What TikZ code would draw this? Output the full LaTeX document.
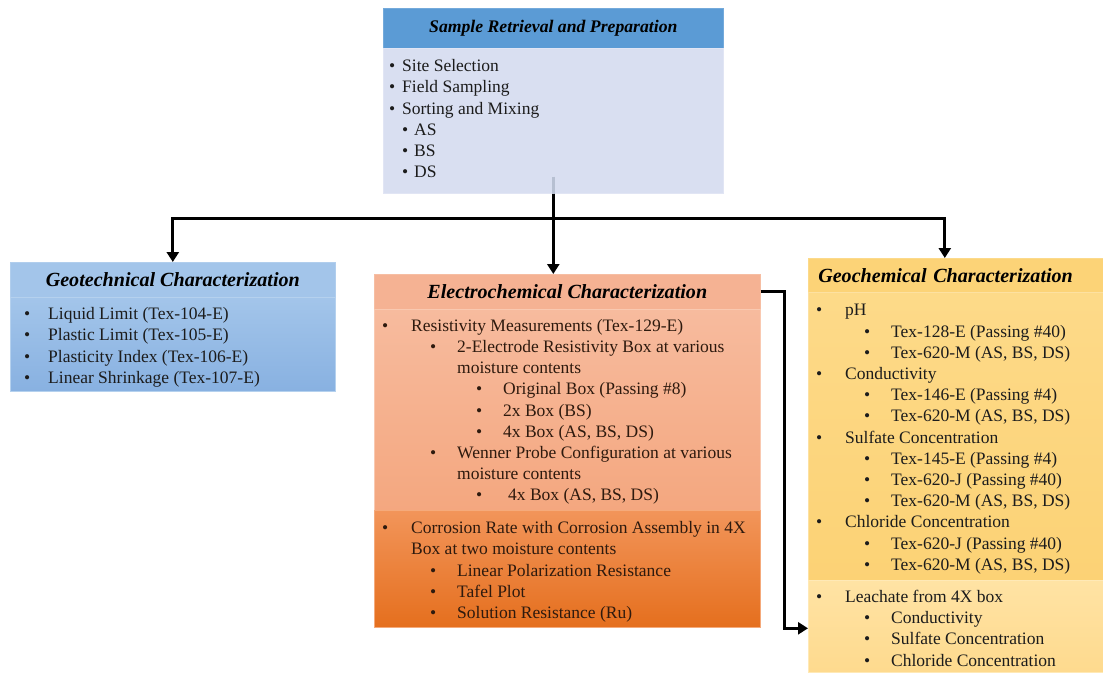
\documentclass[tikz,border=0pt]{standalone}
\usepackage{fontspec}
\setmainfont{Liberation Serif}
\usetikzlibrary{arrows.meta, positioning, calc}
\definecolor{prepblue}{HTML}{5B9BD5}
\definecolor{preplight}{HTML}{D9DFF1}
\definecolor{prepstub}{HTML}{B7C0D2}
\definecolor{geotop}{HTML}{A3C5EA}
\definecolor{geobot}{HTML}{88B1E1}
\definecolor{elechead}{HTML}{F5B293}
\definecolor{electop}{HTML}{F7BB9E}
\definecolor{elecmid}{HTML}{F4A77F}
\definecolor{eleclow}{HTML}{F2955A}
\definecolor{elecbot}{HTML}{E56F1E}
\definecolor{chemhead}{HTML}{FCD377}
\definecolor{chemtop}{HTML}{FDDA89}
\definecolor{chembot}{HTML}{FCD275}
\definecolor{leachtop}{HTML}{FFE3A4}
\definecolor{leachbot}{HTML}{FEDA8E}
\definecolor{bodyink}{HTML}{1C1C1C}
\definecolor{elecink}{HTML}{2E1A0E}

% bullet lines: indent, bullet box, text
\newcommand{\lvone}[1]{\hspace*{8pt}\makebox[29pt][l]{\textbullet}#1}
\newcommand{\lvonec}[1]{\hspace*{37pt}#1}
\newcommand{\lvtwo}[1]{\hspace*{56pt}\makebox[27pt][l]{\textbullet}#1}
\newcommand{\lvtwoc}[1]{\hspace*{83pt}#1}
\newcommand{\lvthree}[1]{\hspace*{102pt}\makebox[27pt][l]{\textbullet}#1}
\newcommand{\geoitem}[1]{\hspace*{14pt}\makebox[24pt][l]{\textbullet}#1}
\newcommand{\prepitem}[1]{\hspace*{6pt}\makebox[13pt][l]{\textbullet}#1}
\newcommand{\prepsub}[1]{\hspace*{19pt}\makebox[12pt][l]{\textbullet}#1}

\begin{document}
\begin{tikzpicture}[x=1pt, y=-1pt,
    head/.style={rectangle, anchor=north west, inner sep=0pt, fill=#1, draw=#1!85!white, line width=0.6pt,
      font=\fontsize{20.1}{22}\selectfont\bfseries\itshape},
    panel/.style 2 args={rectangle, anchor=north west, inner sep=0pt, top color=#1, bottom color=#2, draw=#1!80!white, line width=0.6pt},
    listtext/.style={anchor=west, inner sep=0pt, align=left, text=bodyink, font=\fontsize{17.5}{21.2}\selectfont},
    link/.style={line width=3pt, black},
    feed/.style={link, -{Triangle[width=12pt,length=10pt]}}
]
\useasboundingbox (0,0) rectangle (1103,672);
\fill[white] (0,0) rectangle (1103,672);

% sample retrieval
\node[head=prepblue, minimum width=340pt, minimum height=40pt, font=\fontsize{17.7}{20}\selectfont\bfseries\itshape] (prepHead) at (383,8) {Sample Retrieval and Preparation};
\node[panel={preplight}{preplight}, minimum width=340pt, minimum height=145pt] (prepBody) at (383,48) {};
\node[listtext, yshift=2pt] (prepList) at (prepBody.west) {\prepitem{Site Selection}\\ \prepitem{Field Sampling}\\ \prepitem{Sorting and Mixing}\\ \prepsub{AS}\\ \prepsub{BS}\\ \prepsub{DS}};
\draw[line width=3pt, prepstub] ([yshift=17pt]prepBody.south) -- (prepBody.south);

% geotechnical
\node[head=geotop, minimum width=325pt, minimum height=35pt] (geoHead) at (10,262) {Geotechnical Characterization};
\node[panel={geotop}{geobot}, minimum width=325pt, minimum height=94pt] (geoBody) at (10,297) {};
\node[listtext, yshift=-3pt] (geoList) at (geoBody.west) {\geoitem{Liquid Limit (Tex-104-E)}\\ \geoitem{Plastic Limit (Tex-105-E)}\\ \geoitem{Plasticity Index (Tex-106-E)}\\ \geoitem{Linear Shrinkage (Tex-107-E)}};

% electrochemical
\node[head=elechead, minimum width=386pt, minimum height=35pt] (elecHead) at (374,274) {Electrochemical Characterization};
\node[panel={electop}{elecmid}, minimum width=386pt, minimum height=201pt] (elecBody) at (374,309) {};
\node[listtext, text=elecink, yshift=-2pt] (elecList) at (elecBody.west) {\lvone{Resistivity Measurements (Tex-129-E)}\\
  \lvtwo{2-Electrode Resistivity Box at various}\\
  \lvtwoc{moisture contents}\\
  \lvthree{Original Box (Passing \#8)}\\
  \lvthree{2x Box (BS)}\\
  \lvthree{4x Box (AS, BS, DS)}\\
  \lvtwo{Wenner Probe Configuration at various}\\
  \lvtwoc{moisture contents}\\
  \lvthree{\hspace*{5pt}4x Box (AS, BS, DS)}};
\node[panel={eleclow}{elecbot}, minimum width=386pt, minimum height=117pt] (corrBody) at (374,510) {};
\node[listtext, text=elecink, yshift=-3pt] (corrList) at (corrBody.west) {\lvone{Corrosion Rate with Corrosion Assembly in 4X}\\
  \lvonec{Box at two moisture contents}\\
  \lvtwo{Linear Polarization Resistance}\\
  \lvtwo{Tafel Plot}\\
  \lvtwo{Solution Resistance (Ru)}};

% geochemical
\node[head=chemhead, minimum width=295pt, minimum height=34pt, text width=275pt, align=left] (chemHead) at (808,258) {Geochemical Characterization};
\node[panel={chemtop}{chembot}, minimum width=295pt, minimum height=288pt] (chemBody) at (808,292) {};
\node[listtext, yshift=-3pt] (chemList) at (chemBody.west) {\lvone{pH}\\
  \lvtwo{Tex-128-E (Passing \#40)}\\
  \lvtwo{Tex-620-M (AS, BS, DS)}\\
  \lvone{Conductivity}\\
  \lvtwo{Tex-146-E (Passing \#4)}\\
  \lvtwo{Tex-620-M (AS, BS, DS)}\\
  \lvone{Sulfate Concentration}\\
  \lvtwo{Tex-145-E (Passing \#4)}\\
  \lvtwo{Tex-620-J (Passing \#40)}\\
  \lvtwo{Tex-620-M (AS, BS, DS)}\\
  \lvone{Chloride Concentration}\\
  \lvtwo{Tex-620-J (Passing \#40)}\\
  \lvtwo{Tex-620-M (AS, BS, DS)}};
\node[panel={leachtop}{leachbot}, minimum width=295pt, minimum height=92pt] (leachBody) at (808,580) {};
\node[listtext, yshift=-2pt] (leachList) at (leachBody.west) {\lvone{Leachate from 4X box}\\
  \lvtwo{Conductivity}\\
  \lvtwo{Sulfate Concentration}\\
  \lvtwo{Chloride Concentration}};

% connectors
\coordinate (split) at ([yshift=-25pt]prepBody.south);
\coordinate (elecIn) at ([xshift=-14pt]elecHead.north);
\coordinate (chemIn) at ([xshift=-11pt]chemHead.north);
\draw[feed] (prepBody.south) -- (elecIn);
\draw[feed] (split) -| (geoHead.north);
\draw[feed] (split) -| (chemIn);
\draw[feed] (elecHead.east) -- ++(24,0) |- ([yshift=-2pt]leachBody.west);
\end{tikzpicture}
\end{document}
